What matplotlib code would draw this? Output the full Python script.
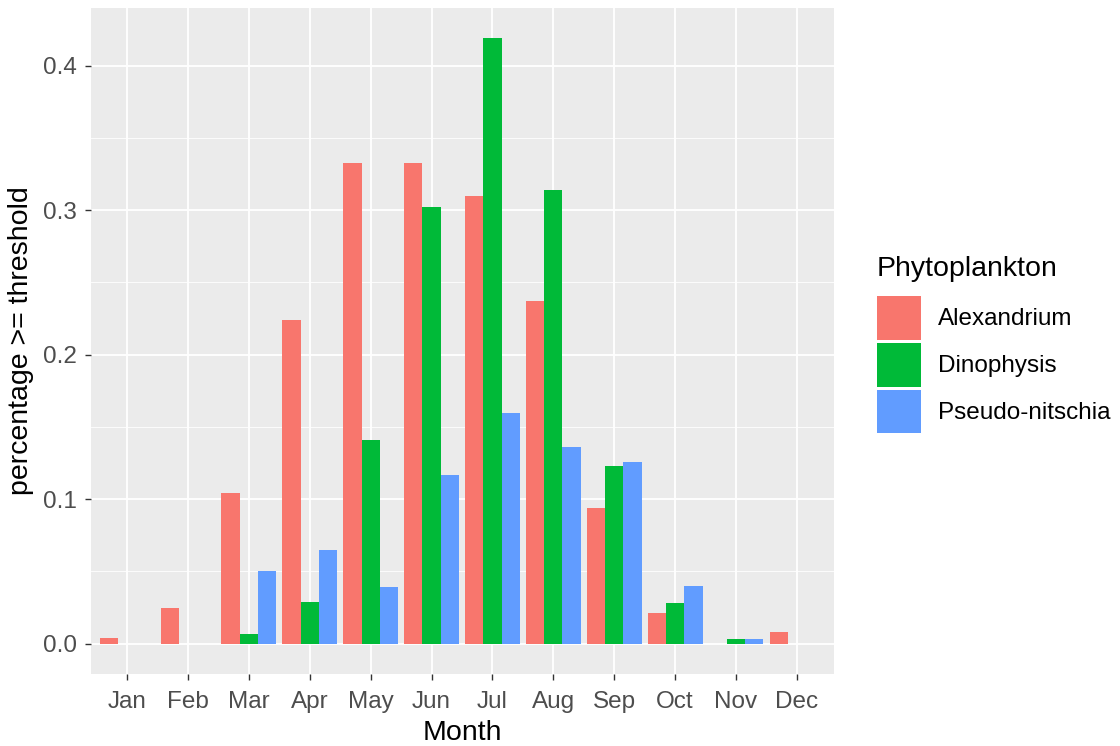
import matplotlib
matplotlib.use("Agg")
import matplotlib.pyplot as plt
from matplotlib.patches import Patch
from matplotlib.ticker import MultipleLocator
import numpy as np

months = ["Jan", "Feb", "Mar", "Apr", "May", "Jun", "Jul", "Aug", "Sep", "Oct", "Nov", "Dec"]
alexandrium = [0.004, 0.025, 0.104, 0.224, 0.333, 0.333, 0.310, 0.237, 0.094, 0.021, 0.0, 0.008]
dinophysis = [0.0, 0.0, 0.007, 0.029, 0.141, 0.302, 0.419, 0.314, 0.123, 0.028, 0.003, 0.0]
pseudo_nitzschia = [0.0, 0.0, 0.050, 0.065, 0.039, 0.117, 0.160, 0.136, 0.126, 0.040, 0.003, 0.0]
series_names = ["Alexandrium", "Dinophysis", "Pseudo-nitschia"]
colors = ["#F8766D", "#00BA38", "#619CFF"]

plt.rcParams["font.family"] = ["Liberation Sans", "DejaVu Sans"]

fig = plt.figure(figsize=(11.2, 7.46), dpi=100)
ax = fig.add_axes([90.5 / 1120, 72 / 746, 743 / 1120, 666 / 746])
ax.set_facecolor("#EBEBEB")

x = np.arange(1, len(months) + 1)
bw = 0.3
all_series = [alexandrium, dinophysis, pseudo_nitzschia]
for i, (vals, col) in enumerate(zip(all_series, colors)):
    vals = np.array(vals)
    mask = vals > 0
    ax.bar(x[mask] + (i - 1) * bw, vals[mask], width=bw, color=col, zorder=3, linewidth=0)

ymax = max(max(s) for s in all_series)
ax.set_xlim(0.4, 12.6)
ax.set_xticks(x)
ax.set_xticklabels(months)
ax.yaxis.set_major_locator(MultipleLocator(0.1))
ax.yaxis.set_minor_locator(MultipleLocator(0.05))
ax.set_ylim(-0.05 * ymax, ymax * 1.05)
ax.yaxis.set_major_formatter(plt.FuncFormatter(lambda v, p: f"{v:.1f}"))

ax.grid(which="major", color="white", linewidth=1.3, zorder=0)
ax.grid(which="minor", axis="y", color="white", linewidth=0.6, zorder=0)
ax.set_axisbelow(True)
for s in ax.spines.values():
    s.set_visible(False)

ax.tick_params(axis="both", which="major", length=4, width=1, color="#333333",
               labelsize=17.5, labelcolor="#4D4D4D")
ax.tick_params(axis="x", which="major", pad=8)
ax.tick_params(axis="y", which="major", pad=6)
ax.tick_params(axis="both", which="minor", length=0)

ax.set_xlabel("Month", fontsize=20.5, color="black", labelpad=5)
ax.set_ylabel("percentage >= threshold", fontsize=20.5, color="black", labelpad=6)

fig.text(877 / 1120, 1 - 269 / 746, "Phytoplankton", fontsize=20.5, color="black",
         ha="left", va="center")

handles = [Patch(facecolor=c, edgecolor="none") for c in colors]
leg = ax.legend(handles, series_names, loc="upper left",
                bbox_to_anchor=(877 / 1120, 1 - 296 / 746), bbox_transform=fig.transFigure,
                frameon=False, fontsize=17.5,
                handlelength=1.82, handleheight=2.4, labelspacing=0.12,
                handletextpad=0.7, borderaxespad=0, borderpad=0)

fig.savefig("out.png", dpi=100)
